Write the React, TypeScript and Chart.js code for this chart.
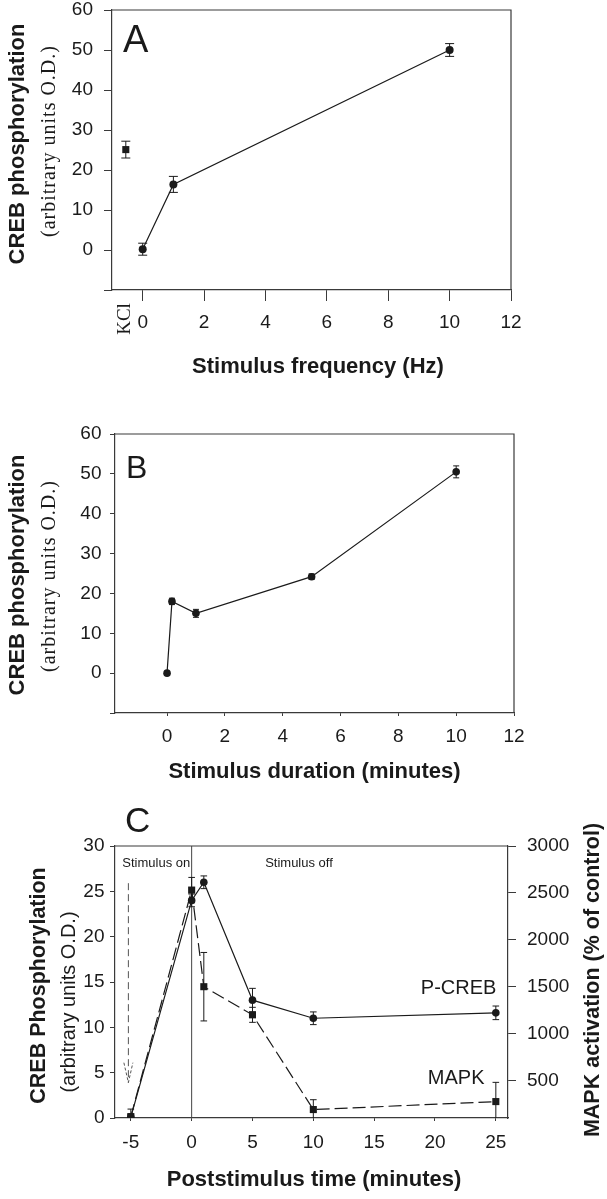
import React, { useEffect, useRef } from "react";
import { Chart, registerables } from "chart.js";

Chart.register(...registerables);

// ---------------- DATA ----------------
// Panel A: stimulus frequency
const freqHz = [0, 1, 10];
const freqCreb = [0.2, 16.4, 50];
const freqErr = [1.5, 2.0, 1.6];
const kclX = [-0.55];
const kclCreb = [25.1];
const kclErr = [2.1];
const freqTicks = [0, 2, 4, 6, 8, 10, 12];
const crebTicksAB = [-10, 0, 10, 20, 30, 40, 50, 60];

// Panel B: stimulus duration
const durMin = [0, 0.17, 1, 5, 10];
const durCreb = [0, 18, 15, 24.2, 50.5];
const durErr = [0, 0.8, 1.0, 0.7, 1.5];
const durTicks = [0, 2, 4, 6, 8, 10, 12];

// Panel C: poststimulus time
const timeMin = [-5, 0, 1, 5, 10, 25];
const pCreb = [0.1, 24, 26, 13, 11, 11.6];
const pCrebErr = [0.3, 0.7, 0.7, 1.3, 0.7, 0.75];
const mapk = [115, 2530, 1500, 1200, 190, 275];
const mapkErr = [80, 135, 365, 80, 105, 205];
const timeTicks = [-5, 0, 5, 10, 15, 20, 25];
const crebTicksC = [0, 5, 10, 15, 20, 25, 30];
const mapkTicks = [500, 1000, 1500, 2000, 2500, 3000];

// ---------------- STYLE ----------------
const SANS = "'Liberation Sans', Arial, Helvetica, sans-serif";
const SERIF = "'Liberation Serif', 'Times New Roman', serif";
const INK = "#1a1a1a";
const AXIS = "#3a3a3a";
const W = 607;

const fixY = (width: number) => (s: any) => {
  s.width = width;
  s.paddingTop = 0;
  s.paddingBottom = 0;
  s.paddingLeft = 0;
  s.paddingRight = 0;
};
const fixX = (height: number) => (s: any) => {
  s.height = height;
  s.paddingTop = 0;
  s.paddingBottom = 0;
  s.paddingLeft = 0;
  s.paddingRight = 0;
};
const setTicks = (arr: number[]) => (s: any) => {
  s.ticks = arr.map((v) => ({ value: v }));
};

function axisCommon(tickLen: number, pad: number, hideVals: number[] = []) {
  return {
    grid: { display: true, drawOnChartArea: false, drawTicks: true, tickLength: tickLen, color: AXIS, lineWidth: 1 },
    border: { display: true, color: AXIS, width: 1.2 },
    ticks: {
      font: { family: SANS, size: 19 },
      color: INK,
      padding: pad,
      autoSkip: false,
      maxRotation: 0,
      minRotation: 0,
      callback: (v: any) => (hideVals.includes(Number(v)) ? "" : String(v)),
    },
  };
}

function txt(
  ctx: CanvasRenderingContext2D,
  s: string,
  x: number,
  y: number,
  font: string,
  align: CanvasTextAlign = "center",
  baseline: CanvasTextBaseline = "middle",
  rotate = 0,
  spacing = "0px"
) {
  ctx.save();
  ctx.translate(x, y);
  if (rotate) ctx.rotate(rotate);
  ctx.font = font;
  (ctx as any).letterSpacing = spacing;
  ctx.fillStyle = INK;
  ctx.textAlign = align;
  ctx.textBaseline = baseline;
  ctx.fillText(s, 0, 0);
  ctx.restore();
}

function errorBars(chart: any, xs: number[], ys: number[], errs: number[], yId: string, cap: number) {
  const ctx = chart.ctx as CanvasRenderingContext2D;
  const xS = chart.scales.x;
  const yS = chart.scales[yId];
  const area = chart.chartArea;
  ctx.save();
  ctx.strokeStyle = INK;
  ctx.lineWidth = 1;
  xs.forEach((xv, i) => {
    const e = errs[i];
    if (!e) return;
    const px = xS.getPixelForValue(xv);
    const t = yS.getPixelForValue(ys[i] + e);
    const rawB = yS.getPixelForValue(ys[i] - e);
    const b = Math.min(rawB, area.bottom);
    ctx.beginPath();
    ctx.moveTo(px, t);
    ctx.lineTo(px, b);
    ctx.moveTo(px - cap, t);
    ctx.lineTo(px + cap, t);
    if (rawB <= area.bottom) {
      ctx.moveTo(px - cap, b);
      ctx.lineTo(px + cap, b);
    }
    ctx.stroke();
  });
  ctx.restore();
}

function boxLines(chart: any, right = true) {
  const ctx = chart.ctx as CanvasRenderingContext2D;
  const a = chart.chartArea;
  ctx.save();
  ctx.strokeStyle = AXIS;
  ctx.lineWidth = 1.2;
  ctx.beginPath();
  ctx.moveTo(a.left, a.top);
  ctx.lineTo(a.right, a.top);
  if (right) ctx.lineTo(a.right, a.bottom);
  ctx.stroke();
  ctx.restore();
}

const yTitleAB = (ctx: CanvasRenderingContext2D, cy1: number, cy2: number) => {
  txt(ctx, "CREB phosphorylation", 18, cy1, `bold 22px ${SANS}`, "center", "middle", -Math.PI / 2);
  txt(ctx, "(arbitrary units O.D.)", 50, cy2, `20px ${SERIF}`, "center", "middle", -Math.PI / 2, "1px");
};

// ---------------- PANEL CONFIGS ----------------
function configA(): any {
  return {
    type: "scatter",
    data: {
      datasets: [
        {
          data: freqHz.map((x, i) => ({ x, y: freqCreb[i] })),
          showLine: true,
          borderColor: INK,
          borderWidth: 1.2,
          pointRadius: 4,
          pointBackgroundColor: INK,
          pointBorderWidth: 0,
        },
        {
          data: kclX.map((x, i) => ({ x, y: kclCreb[i] })),
          showLine: false,
          pointStyle: "rect",
          pointRadius: 5,
          pointBackgroundColor: INK,
          pointBorderWidth: 0,
        },
      ],
    },
    options: {
      responsive: false,
      animation: false,
      events: [],
      layout: { padding: { left: 0, top: 10, right: 96, bottom: 0 } },
      plugins: { legend: { display: false }, tooltip: { enabled: false } },
      scales: {
        x: {
          type: "linear",
          min: -1,
          max: 12,
          afterBuildTicks: setTicks(freqTicks),
          afterFit: fixX(110),
          ...axisCommon(11, 10),
        },
        y: {
          type: "linear",
          min: -10,
          max: 60,
          afterBuildTicks: setTicks(crebTicksAB),
          afterFit: fixY(112),
          ...axisCommon(8, 11, [-10]),
        },
      },
    },
    plugins: [
      {
        id: "decorA",
        beforeDatasetsDraw(chart: any) {
          boxLines(chart);
          errorBars(chart, freqHz, freqCreb, freqErr, "y", 4.5);
          errorBars(chart, kclX, kclCreb, kclErr, "y", 4.5);
        },
        afterDraw(chart: any) {
          const ctx = chart.ctx;
          const a = chart.chartArea;
          txt(ctx, "A", a.left + 11, a.top + 42, `38px ${SANS}`, "left", "alphabetic");
          txt(ctx, "KCl", chart.scales.x.getPixelForValue(kclX[0]) - 1, a.bottom + 29, `19px ${SERIF}`, "center", "middle", -Math.PI / 2);
          txt(ctx, "Stimulus frequency (Hz)", 318, 367, `bold 22px ${SANS}`);
          yTitleAB(ctx, 144, 141);
        },
      },
    ],
  };
}

function configB(): any {
  return {
    type: "scatter",
    data: {
      datasets: [
        {
          data: durMin.map((x, i) => ({ x, y: durCreb[i] })),
          showLine: true,
          borderColor: INK,
          borderWidth: 1.2,
          pointRadius: 3.8,
          pointBackgroundColor: INK,
          pointBorderWidth: 0,
        },
      ],
    },
    options: {
      responsive: false,
      animation: false,
      events: [],
      layout: { padding: { left: 0, top: 34, right: 93, bottom: 0 } },
      plugins: { legend: { display: false }, tooltip: { enabled: false } },
      scales: {
        x: {
          type: "linear",
          min: -1.8,
          max: 12,
          afterBuildTicks: setTicks(durTicks),
          afterFit: fixX(87),
          ...axisCommon(3, 9),
        },
        y: {
          type: "linear",
          min: -10,
          max: 60,
          afterBuildTicks: setTicks(crebTicksAB),
          afterFit: fixY(115),
          ...axisCommon(5, 8.5, [-10]),
        },
      },
    },
    plugins: [
      {
        id: "decorB",
        beforeDatasetsDraw(chart: any) {
          boxLines(chart);
          errorBars(chart, durMin, durCreb, durErr, "y", 3);
        },
        afterDraw(chart: any) {
          const ctx = chart.ctx;
          const a = chart.chartArea;
          txt(ctx, "B", a.left + 11, a.top + 44, `32px ${SANS}`, "left", "alphabetic");
          txt(ctx, "Stimulus duration (minutes)", 314.5, 372, `bold 22px ${SANS}`);
          yTitleAB(ctx, 175, 176);
        },
      },
    ],
  };
}

function configC(): any {
  return {
    type: "scatter",
    data: {
      datasets: [
        {
          data: timeMin.map((x, i) => ({ x, y: pCreb[i] })),
          yAxisID: "y",
          showLine: true,
          borderColor: INK,
          borderWidth: 1.2,
          pointRadius: 3.8,
          pointBackgroundColor: INK,
          pointBorderWidth: 0,
        },
        {
          data: timeMin.map((x, i) => ({ x, y: mapk[i] })),
          yAxisID: "y1",
          showLine: true,
          borderColor: INK,
          borderWidth: 1.2,
          borderDash: [13, 5],
          pointStyle: "rect",
          pointRadius: 5,
          pointBackgroundColor: INK,
          pointBorderWidth: 0,
        },
      ],
    },
    options: {
      responsive: false,
      animation: false,
      events: [],
      layout: { padding: { left: 0, top: 46, right: 0, bottom: 0 } },
      plugins: { legend: { display: false }, tooltip: { enabled: false } },
      scales: {
        x: {
          type: "linear",
          min: -6.3,
          max: 26,
          afterBuildTicks: setTicks(timeTicks),
          afterFit: fixX(81),
          ...axisCommon(3, 10),
        },
        y: {
          type: "linear",
          position: "left",
          min: 0,
          max: 30,
          afterBuildTicks: setTicks(crebTicksC),
          afterFit: fixY(115),
          ...axisCommon(5, 5.5),
        },
        y1: {
          type: "linear",
          position: "right",
          min: 100,
          max: 3000,
          afterBuildTicks: setTicks(mapkTicks),
          afterFit: fixY(99),
          ...axisCommon(8, 11),
        },
      },
    },
    plugins: [
      {
        id: "decorC",
        beforeDatasetsDraw(chart: any) {
          const ctx = chart.ctx as CanvasRenderingContext2D;
          const a = chart.chartArea;
          const xS = chart.scales.x;
          const yS = chart.scales.y;
          boxLines(chart, false);
          // vertical line at stimulus off (t = 0)
          const x0 = xS.getPixelForValue(0);
          ctx.save();
          ctx.strokeStyle = "#444";
          ctx.lineWidth = 1;
          ctx.beginPath();
          ctx.moveTo(x0, a.top);
          ctx.lineTo(x0, a.bottom);
          ctx.stroke();
          // dashed arrow: stimulus on
          const xa = xS.getPixelForValue(-5.2);
          const yTop = yS.getPixelForValue(25.9);
          const yTip = yS.getPixelForValue(3.9);
          const yHead = yS.getPixelForValue(6.1);
          ctx.strokeStyle = "#555";
          ctx.setLineDash([7, 4]);
          ctx.beginPath();
          ctx.moveTo(xa, yTop);
          ctx.lineTo(xa, yTip);
          ctx.stroke();
          ctx.setLineDash([3, 2]);
          ctx.beginPath();
          ctx.moveTo(xa - 4.5, yHead);
          ctx.lineTo(xa, yTip);
          ctx.lineTo(xa + 4.5, yHead);
          ctx.stroke();
          ctx.restore();
          errorBars(chart, timeMin, pCreb, pCrebErr, "y", 3.3);
          errorBars(chart, timeMin, mapk, mapkErr, "y1", 3.3);
        },
        afterDraw(chart: any) {
          const ctx = chart.ctx;
          const xS = chart.scales.x;
          const yS = chart.scales.y;
          txt(ctx, "C", 125, 32, `35px ${SANS}`, "left", "alphabetic");
          txt(ctx, "Stimulus on", xS.getPixelForValue(-5.7), yS.getPixelForValue(28.1), `13px ${SANS}`, "left", "middle");
          txt(ctx, "Stimulus off", xS.getPixelForValue(6.04), yS.getPixelForValue(28.1), `13px ${SANS}`, "left", "middle");
          txt(ctx, "P-CREB", xS.getPixelForValue(25.05), yS.getPixelForValue(13.7), `20px ${SANS}`, "right", "alphabetic");
          txt(ctx, "MAPK", xS.getPixelForValue(24.07), yS.getPixelForValue(3.8), `20px ${SANS}`, "right", "alphabetic");
          txt(ctx, "Poststimulus time (minutes)", 314, 380, `bold 22px ${SANS}`);
          txt(ctx, "CREB Phosphorylation", 39, 185.5, `bold 21.5px ${SANS}`, "center", "middle", -Math.PI / 2);
          txt(ctx, "(arbitrary units O.D.)", 69, 202, `20px ${SANS}`, "center", "middle", -Math.PI / 2);
          txt(ctx, "MAPK activation (% of control)", 593, 180, `bold 21.5px ${SANS}`, "center", "middle", -Math.PI / 2);
        },
      },
    ],
  };
}

// ---------------- COMPONENTS ----------------
function Panel({ top, height, build }: { top: number; height: number; build: () => any }) {
  const ref = useRef<HTMLCanvasElement>(null);
  useEffect(() => {
    const chart = new Chart(ref.current as HTMLCanvasElement, build());
    return () => chart.destroy();
  }, []);
  return (
    <canvas
      ref={ref}
      width={W}
      height={height}
      style={{ position: "absolute", left: 0, top, width: W, height, display: "block" }}
    />
  );
}

export default function App() {
  return (
    <div style={{ position: "absolute", left: 0, top: 0, width: W, height: 1199, background: "#fff", overflow: "hidden" }}>
      <Panel top={0} height={400} build={configA} />
      <Panel top={400} height={400} build={configB} />
      <Panel top={800} height={399} build={configC} />
    </div>
  );
}
